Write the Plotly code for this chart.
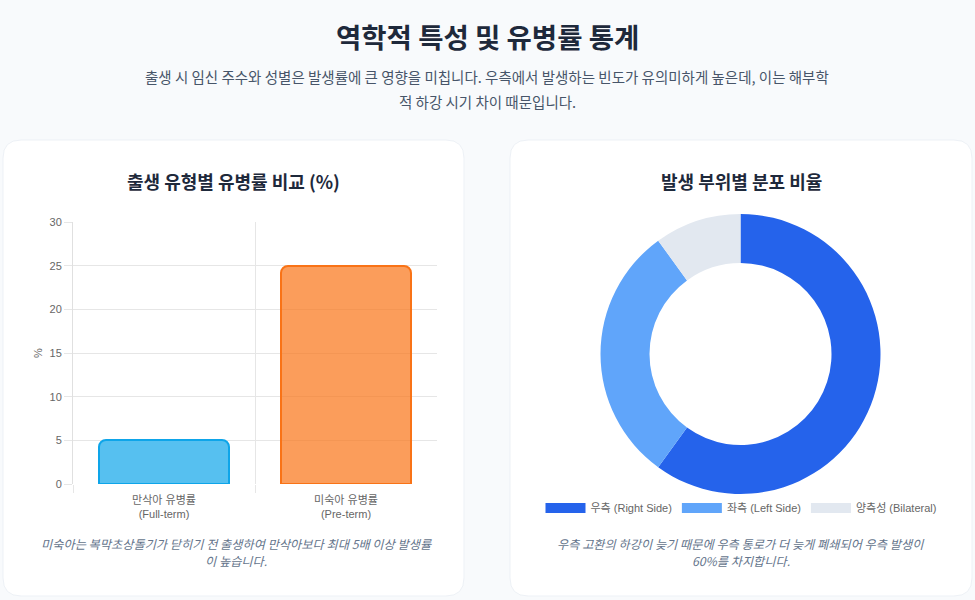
import plotly.graph_objects as go

W, H = 975, 600

# data
bar_labels = ["만삭아 유병률<br>(Full-term)", "미숙아 유병률<br>(Pre-term)"]
bar_values = [5, 25]
bar_fill = ["rgba(14,165,233,0.7)", "rgba(249,115,22,0.7)"]
bar_line = ["#0ea5e9", "#f97316"]

pie_labels = ["우측 (Right Side)", "좌측 (Left Side)", "양측성 (Bilateral)"]
pie_values = [60, 30, 10]
pie_colors = ["#2563eb", "#60a5fa", "#e2e8f0"]

y_ticks = [0, 5, 10, 15, 20, 25, 30]

KR = "Noto Sans CJK KR, sans-serif"
TICK = "Liberation Sans, Noto Sans CJK KR, sans-serif"


def px(x):
    return x / W


def py(y):
    return 1 - y / H


def card_path(x0, y0, x1, y1, r):
    # rounded rectangle, pixel coords in, paper coords out
    pts = [
        f"M {px(x0 + r)} {py(y0)}",
        f"L {px(x1 - r)} {py(y0)}",
        f"Q {px(x1)} {py(y0)} {px(x1)} {py(y0 + r)}",
        f"L {px(x1)} {py(y1 - r)}",
        f"Q {px(x1)} {py(y1)} {px(x1 - r)} {py(y1)}",
        f"L {px(x0 + r)} {py(y1)}",
        f"Q {px(x0)} {py(y1)} {px(x0)} {py(y1 - r)}",
        f"L {px(x0)} {py(y0 + r)}",
        f"Q {px(x0)} {py(y0)} {px(x0 + r)} {py(y0)}",
        "Z",
    ]
    return " ".join(pts)


fig = go.Figure()

fig.add_trace(go.Bar(
    x=list(range(len(bar_values))),
    y=bar_values,
    width=0.71,
    marker=dict(color=bar_fill, line=dict(color=bar_line, width=2), cornerradius=7),
    showlegend=False,
    hoverinfo="y",
))

fig.add_trace(go.Pie(
    labels=pie_labels,
    values=pie_values,
    marker=dict(colors=pie_colors, line=dict(width=0)),
    hole=0.65,
    sort=False,
    direction="clockwise",
    rotation=0,
    textinfo="none",
    showlegend=False,
    domain=dict(x=[px(600), px(881)], y=[py(494), py(214)]),
))

# legend entries for the donut, drawn as wide colour boxes
for lab, col in zip(pie_labels, pie_colors):
    fig.add_trace(go.Scatter(
        x=[None], y=[None], mode="lines", name=lab,
        line=dict(color=col, width=12), hoverinfo="skip",
    ))

shapes = [
    dict(type="path", path=card_path(3, 140, 464, 596, 18), xref="paper", yref="paper",
         fillcolor="white", line=dict(color="#edf1f6", width=1), layer="below"),
    dict(type="path", path=card_path(510, 140, 972, 596, 18), xref="paper", yref="paper",
         fillcolor="white", line=dict(color="#edf1f6", width=1), layer="below"),
]


def note(text, x, y, size, color, family=KR):
    return dict(text=text, x=x, y=y, xref="paper", yref="paper", showarrow=False,
                align="center", xanchor="center", yanchor="middle",
                font=dict(family=family, size=size, color=color))


annotations = [
    note("<b>역학적 특성 및 유병률 통계</b>", 0.5, py(36), 27.5, "#1e293b"),
    note("출생 시 임신 주수와 성별은 발생률에 큰 영향을 미칩니다. 우측에서 발생하는 빈도가 유의미하게 높은데, 이는 해부학",
         px(487), py(77), 14.5, "#475569"),
    note("적 하강 시기 차이 때문입니다.", px(487), py(101), 14.5, "#475569"),
    note("<b>출생 유형별 유병률 비교 (%)</b>", px(233), py(181), 18, "#1e293b"),
    note("<b>발생 부위별 분포 비율</b>", px(741), py(181), 18, "#1e293b"),
    # captions, one annotation per line
    note("<i>미숙아는 복막초상돌기가 닫히기 전 출생하여 만삭아보다 최대 5배 이상 발생률</i>",
         px(236), py(544), 12.2, "#64748b"),
    note("<i>이 높습니다.</i>", px(236), py(561), 12.2, "#64748b"),
    note("<i>우측 고환의 하강이 늦기 때문에 우측 통로가 더 늦게 폐쇄되어 우측 발생이</i>",
         px(741), py(544), 12.2, "#64748b"),
    note("<i>60%를 차지합니다.</i>", px(741), py(561), 12.2, "#64748b"),
]

fig.update_layout(
    width=W, height=H,
    margin=dict(l=0, r=0, t=0, b=0, autoexpand=False),
    paper_bgcolor="#f8fafc",
    plot_bgcolor="rgba(0,0,0,0)",
    shapes=shapes,
    annotations=annotations,
    bargap=0,
    xaxis=dict(
        domain=[px(73), px(437)],
        range=[-0.5, 1.5],
        tickvals=list(range(len(bar_labels))),
        ticktext=bar_labels,
        showgrid=False,
        zeroline=False,
        showline=False,
        ticks="",
        ticklabelstandoff=8,
        tickfont=dict(family=TICK, size=11, color="#666666"),
        minor=dict(tickvals=[-0.5, 0.5], showgrid=True, gridcolor="#e6e6e6", gridwidth=1,
                   ticks="outside", ticklen=8, tickcolor="#e6e6e6"),
        fixedrange=True,
    ),
    yaxis=dict(
        domain=[py(484), py(222)],
        range=[0, 30],
        tickvals=y_ticks,
        gridcolor="#e6e6e6",
        zeroline=False,
        showline=True,
        linecolor="#e0e0e0",
        ticks="outside",
        ticklen=8,
        tickcolor="#e6e6e6",
        tickfont=dict(family=TICK, size=11, color="#666666"),
        title=dict(text="%", font=dict(family=TICK, size=11, color="#666666"), standoff=4),
        fixedrange=True,
    ),
    legend=dict(
        orientation="h",
        x=px(741), xanchor="center",
        y=py(508), yanchor="middle",
        font=dict(family=TICK, size=11, color="#666666"),
        bgcolor="rgba(0,0,0,0)",
        itemwidth=40,
        traceorder="normal",
    ),
)

fig.write_html(
    "out.html",
    config={"displayModeBar": False},
    post_script="document.body.style.margin='0';"
                "document.body.style.overflow='hidden';"
                "document.documentElement.style.overflow='hidden';",
)
